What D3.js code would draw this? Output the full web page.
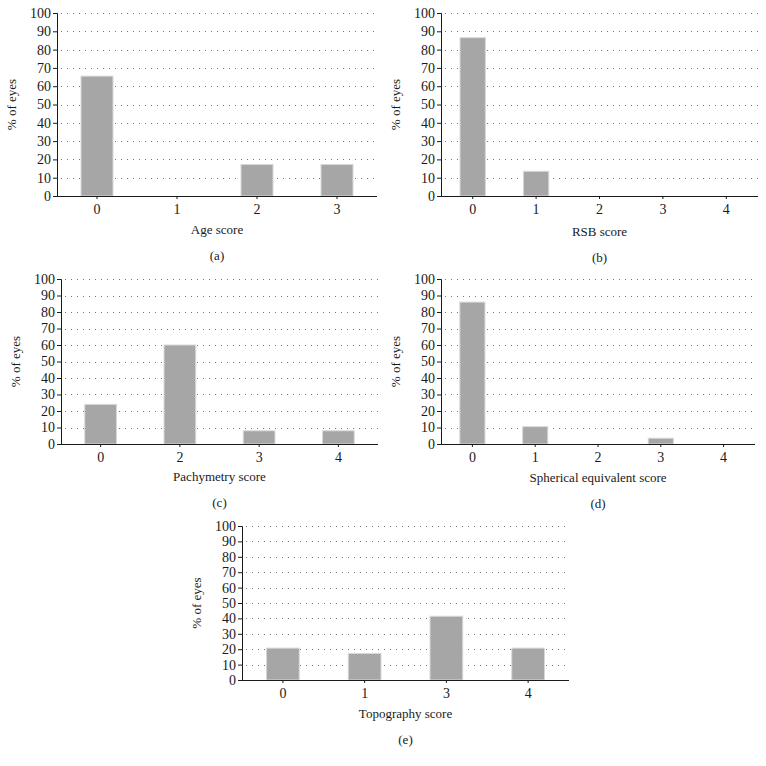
<!DOCTYPE html>
<html lang="en">
  <head>
    <meta charset="utf-8">
    <title>Score distributions</title>
    <style>
      body { margin: 0; background: white; }
      svg { display: block; }
      text { font-family: "Liberation Serif", "DejaVu Serif", serif; fill: #1a1a1a; }
    </style>
    <script src="https://d3js.org/d3.v7.min.js"></script>
  </head>
  <body>
    <div class="chart"></div>
    <script>

    // values (% of eyes)
    const ageScores = ["0", "1", "2", "3"]
    const ageValues = [65.5, 0, 17.2, 17.2]

    const rsbScores = ["0", "1", "2", "3", "4"]
    const rsbValues = [86.5, 13.5, 0, 0, 0]

    const pachyScores = ["0", "2", "3", "4"]
    const pachyValues = [24, 60, 8, 8]

    const seScores = ["0", "1", "2", "3", "4"]
    const seValues = [86, 10.5, 0, 3.5, 0]

    const topoScores = ["0", "1", "3", "4"]
    const topoValues = [20.7, 17.2, 41.4, 20.7]

    const yTicks = [0, 10, 20, 30, 40, 50, 60, 70, 80, 90, 100]

    const svg = d3.select(".chart")
      .append("svg")
      .attr("width", 766)
      .attr("height", 766)

    const chart = (cats, vals, xTitle, tag, box) => {
      const x = d3.scaleBand()
        .domain(cats)
        .range([box.left, box.right])
        .paddingInner(0.6)
        .paddingOuter(0.3)

      const y = d3.scaleLinear()
        .domain([0, 100])
        .range([box.bottom, box.top])

      const g = svg.append("g")

      // dotted grid
      g.append("g")
        .selectAll("line")
        .data(yTicks.filter(d => d > 0))
        .join("line")
        .attr("x1", box.left + 4)
        .attr("x2", box.right)
        .attr("y1", d => Math.round(y(d)) + 0.5)
        .attr("y2", d => Math.round(y(d)) + 0.5)
        .attr("stroke", "#777")
        .attr("stroke-width", 1)
        .attr("stroke-dasharray", "1,5")

      g.append("g")
        .selectAll("rect")
        .data(vals)
        .join("rect")
        .attr("x", (d, i) => x(cats[i]))
        .attr("width", x.bandwidth())
        .attr("y", d => y(d))
        .attr("height", d => box.bottom - y(d))
        .attr("fill", "#a6a6a6")
        .attr("stroke", "#d8d8d8")
        .attr("stroke-width", 1)

      const yAxis = g.append("g")
        .attr("transform", `translate(${box.left},0)`)
        .call(d3.axisLeft(y).tickValues(yTicks).tickSize(4).tickPadding(2))
      const xAxis = g.append("g")
        .attr("transform", `translate(0,${box.bottom})`)
        .call(d3.axisBottom(x).tickSize(3).tickPadding(5))

      for (const ax of [yAxis, xAxis]) {
        ax.select(".domain").attr("stroke", "#1a1a1a")
        ax.selectAll(".tick line").attr("stroke", "#1a1a1a")
        ax.selectAll("text")
          .style("font-family", "Liberation Serif, serif")
          .style("font-size", "14px")
          .attr("fill", "#1a1a1a")
      }
      xAxis.select(".domain").attr("d", `M${box.left},0.5H${box.right}`)

      g.append("text")
        .attr("transform", `translate(${box.left - 41},${(box.top + box.bottom) / 2}) rotate(-90)`)
        .attr("text-anchor", "middle")
        .style("font-size", "13px")
        .text("% of eyes")

      g.append("text")
        .attr("x", (box.left + box.right) / 2)
        .attr("y", box.bottom + box.gap)
        .attr("text-anchor", "middle")
        .style("font-size", "13px")
        .text(xTitle)

      g.append("text")
        .attr("x", (box.left + box.right) / 2)
        .attr("y", box.bottom + box.gap + 26)
        .attr("text-anchor", "middle")
        .style("font-size", "13px")
        .text(tag)
    }

    chart(ageScores, ageValues, "Age score", "(a)", {left: 57, right: 377, top: 13, bottom: 196, gap: 38})
    chart(rsbScores, rsbValues, "RSB score", "(b)", {left: 441, right: 758, top: 13, bottom: 196, gap: 40})
    chart(pachyScores, pachyValues, "Pachymetry score", "(c)", {left: 61, right: 378, top: 279, bottom: 444, gap: 37})
    chart(seScores, seValues, "Spherical equivalent score", "(d)", {left: 441, right: 755, top: 279, bottom: 444, gap: 38})
    chart(topoScores, topoValues, "Topography score", "(e)", {left: 242, right: 569, top: 526, bottom: 680, gap: 38})
    </script>
  </body>
</html>
